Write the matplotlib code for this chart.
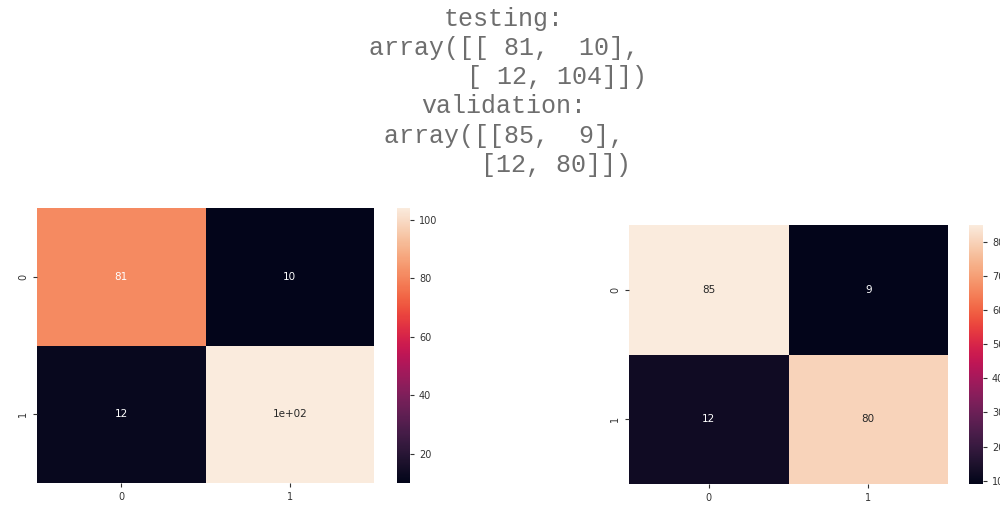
import matplotlib
matplotlib.use("Agg")
import matplotlib.pyplot as plt
import numpy as np
import seaborn as sns

# Data
labels = ["0", "1"]
testing_cm = np.array([[81, 10], [12, 104]])
validation_cm = np.array([[85, 9], [12, 80]])
title_text = ("testing:\n"
              "array([[ 81,  10],\n"
              "       [ 12, 104]])\n"
              "validation:\n"
              "array([[85,  9],\n"
              "       [12, 80]])")

W, H = 1000, 508
fig = plt.figure(figsize=(W / 100, H / 100), dpi=100)

def box(x0, y0, x1, y1):
    return [x0 / W, (H - y1) / H, (x1 - x0) / W, (y1 - y0) / H]

ax1 = fig.add_axes(box(37, 208, 374, 483))
cax1 = fig.add_axes(box(397, 208, 410, 483))
ax2 = fig.add_axes(box(629, 225, 948, 484))
cax2 = fig.add_axes(box(969, 225, 983, 484))

for ax, cax, cm in [(ax1, cax1, testing_cm), (ax2, cax2, validation_cm)]:
    sns.heatmap(cm, annot=True, ax=ax, cbar_ax=cax, cmap="rocket",
                xticklabels=labels, yticklabels=labels,
                annot_kws={"size": 7.5})
    ax.tick_params(labelsize=7, colors="#333333", length=3)
    for t in ax.get_yticklabels():
        t.set_rotation(90)
        t.set_va("center")
    cax.tick_params(labelsize=7, colors="#333333", length=3)

fig.text(504 / W, 1 - 7 / H, title_text, ha="center", va="top", multialignment="center",
         family="Liberation Mono", fontsize=18, color="#6e6e6e", linespacing=1.27)

fig.savefig("out.png", dpi=100, facecolor="white")
